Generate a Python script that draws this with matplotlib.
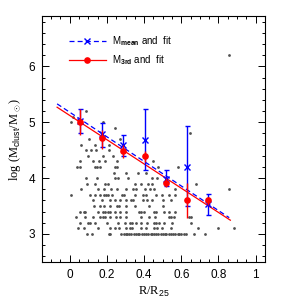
import matplotlib
matplotlib.use("Agg")
import matplotlib.pyplot as plt
from matplotlib.ticker import MultipleLocator
from matplotlib.lines import Line2D
import numpy as np

plt.rcParams["mathtext.fontset"] = "custom"
plt.rcParams["mathtext.rm"] = "Liberation Sans"
plt.rcParams["mathtext.it"] = "Liberation Sans:italic"
plt.rcParams["mathtext.bf"] = "Liberation Sans:bold"

# ---- individual clusters (grey points), grouped by log mass row ----
row_logm = [3.0, 3.1, 3.2, 3.3, 3.4, 3.5, 3.6, 3.7, 3.8, 3.9, 4.0, 4.1, 4.2,
            4.3, 4.4, 4.5, 4.6, 4.7, 4.8, 4.9, 5.0, 5.1, 5.2, 6.2]
row_r = [
    [0.093, 0.12, 0.21, 0.219, 0.277, 0.29, 0.30, 0.31, 0.32, 0.33, 0.345, 0.355,
     0.365, 0.375, 0.39, 0.40, 0.41, 0.42, 0.435, 0.445, 0.455, 0.465, 0.475, 0.49,
     0.50, 0.51, 0.52, 0.535, 0.545, 0.555, 0.565, 0.58, 0.59, 0.60, 0.615, 0.624,
     0.669, 0.727],
    [0.044, 0.075, 0.152, 0.219, 0.246, 0.264, 0.305, 0.322, 0.336, 0.381, 0.412,
     0.453, 0.471, 0.498, 0.547, 0.688, 0.796, 0.885],
    [0.057, 0.096, 0.111, 0.138, 0.201, 0.26, 0.296, 0.322, 0.336, 0.354, 0.386,
     0.417, 0.453, 0.462, 0.48, 0.507, 0.552, 0.651],
    [0.035, 0.08, 0.123, 0.165, 0.177, 0.192, 0.219, 0.251, 0.269, 0.3, 0.386,
     0.426, 0.457, 0.534, 0.547, 0.561, 0.642, 0.651],
    [0.057, 0.075, 0.08, 0.152, 0.179, 0.192, 0.206, 0.219, 0.242, 0.273, 0.304,
     0.372, 0.386, 0.399, 0.453, 0.462, 0.507, 0.534, 0.565],
    [0.129, 0.161, 0.183, 0.219, 0.255, 0.264, 0.305, 0.349, 0.426, 0.5],
    [0.125, 0.174, 0.219, 0.242, 0.268, 0.304, 0.331, 0.342, 0.394, 0.417, 0.444,
     0.504, 0.547],
    [0.008, 0.111, 0.134, 0.161, 0.183, 0.196, 0.206, 0.228, 0.282, 0.291, 0.349,
     0.394, 0.412, 0.462, 0.498, 0.534, 0.566],
    [0.062, 0.152, 0.183, 0.224, 0.255, 0.305, 0.34, 0.354, 0.404, 0.43, 0.453,
     0.565, 0.855],
    [0.092, 0.138, 0.192, 0.204, 0.349, 0.385, 0.423, 0.444, 0.678],
    [0.089, 0.147, 0.242, 0.26, 0.315, 0.444, 0.468],
    [0.237, 0.3, 0.369, 0.408],
    [0.038, 0.057, 0.138, 0.147, 0.161, 0.246, 0.255, 0.475, 0.583],
    [0.053, 0.125, 0.156, 0.188, 0.255, 0.448],
    [0.1, 0.179, 0.234],
    [0.089, 0.116, 0.143, 0.21],
    [0.062, 0.134, 0.21],
    [0.102, 0.27],
    [0.648],
    [0.242],
    [0.008, 0.18],
    [0.017],
    [0.089],
    [0.855],
]

# ---- binned values ----
r_bins = [0.057, 0.172, 0.286, 0.403, 0.516, 0.633, 0.745]
m3rd = [5.0, 4.71, 4.49, 4.39, 3.92, 3.61, 3.60]
m3rd_lo = [4.77, 4.52, 4.36, 4.29, 3.85, 3.28, 3.52]
m3rd_hi = [5.23, 4.86, 4.59, 4.48, 4.00, 3.92, 3.67]
mmean = [5.02, 4.79, 4.59, 4.68, 3.98, 4.20, 3.53]
mmean_lo = [4.80, 4.55, 4.39, 4.14, 3.86, 3.50, 3.34]
mmean_hi = [5.23, 4.99, 4.78, 5.23, 4.14, 4.93, 3.72]

# ---- linear fits (slope, intercept) and fitted range ----
fit_mean = (-2.20, 5.18)
fit_3rd = (-2.17, 5.122)
fit_range_mean = (-0.068, 0.858)
fit_range_3rd = (-0.068, 0.864)

fig = plt.figure(figsize=(2.99, 2.99), dpi=100)
ax = fig.add_axes([0.140, 0.124, 0.746, 0.822])

gx, gy = [], []
for lm, rs in zip(row_logm, row_r):
    gx.extend(rs)
    gy.extend([lm] * len(rs))
ax.scatter(gx, gy, s=4.0, color="#505050", linewidths=0, zorder=1)

xm = np.array(fit_range_mean)
ax.plot(xm, fit_mean[0] * xm + fit_mean[1], color="blue", ls=(0, (4, 2.5)), lw=0.9, zorder=2)
x3 = np.array(fit_range_3rd)
ax.plot(x3, fit_3rd[0] * x3 + fit_3rd[1], color="red", ls="-", lw=0.9, zorder=2)

r = np.array(r_bins)
mm = np.array(mmean)
yerr_m = [mm - np.array(mmean_lo), np.array(mmean_hi) - mm]
ax.errorbar(r, mm, yerr=yerr_m, fmt="x", color="blue", ms=5, mew=1.0,
            elinewidth=1.0, capsize=1.8, capthick=1.0, zorder=3)
m3 = np.array(m3rd)
yerr_3 = [m3 - np.array(m3rd_lo), np.array(m3rd_hi) - m3]
ax.errorbar(r, m3, yerr=yerr_3, fmt="o", color="red", ms=4.8, mew=0,
            elinewidth=1.0, capsize=1.8, capthick=1.0, zorder=4)

ax.set_xlim(-0.15, 1.05)
ax.set_ylim(2.5, 6.9)
ax.xaxis.set_minor_locator(MultipleLocator(0.05))
ax.yaxis.set_minor_locator(MultipleLocator(0.2))
ax.set_xticks([0, 0.2, 0.4, 0.6, 0.8, 1.0])
ax.set_xticklabels(["0", "0.2", "0.4", "0.6", "0.8", "1"])
ax.set_yticks([3, 4, 5, 6])
ax.set_yticklabels(["3", "4", "5", "6"])
ax.tick_params(which="both", direction="in", top=True, right=True,
               labelsize=8.5, width=0.7, colors="black")
ax.tick_params(which="major", length=5, pad=5)
ax.tick_params(which="minor", length=2.5)
for lab in ax.get_xticklabels() + ax.get_yticklabels():
    lab.set_fontfamily("Liberation Sans")
for sp in ax.spines.values():
    sp.set_linewidth(0.8)

ax.set_xlabel(r"R/R$_{25}$", fontsize=9, family="Liberation Serif", labelpad=3)
ax.set_ylabel(r"log (M$_{\rm clust}$/M$_\odot$)", fontsize=9, family="Liberation Serif", labelpad=4)

handles = [
    Line2D([0], [0], color="blue", ls=(0, (4, 2.5)), lw=0.9, marker="x", ms=5, mew=1.0),
    Line2D([0], [0], color="red", ls="-", lw=0.9, marker="o", ms=4.8, mew=0),
]
labels = [r"M$_{\mathbf{mean}}$ and  fit", r"M$_{\mathbf{3rd}}$ and  fit"]
leg = ax.legend(handles, labels, loc="upper left", bbox_to_anchor=(0.10, 0.945),
                frameon=False, handlelength=3.8, handletextpad=0.6,
                labelspacing=0.5, borderpad=0.0, prop={"family": "Liberation Sans", "size": 7})

fig.savefig("out.png", dpi=100)
